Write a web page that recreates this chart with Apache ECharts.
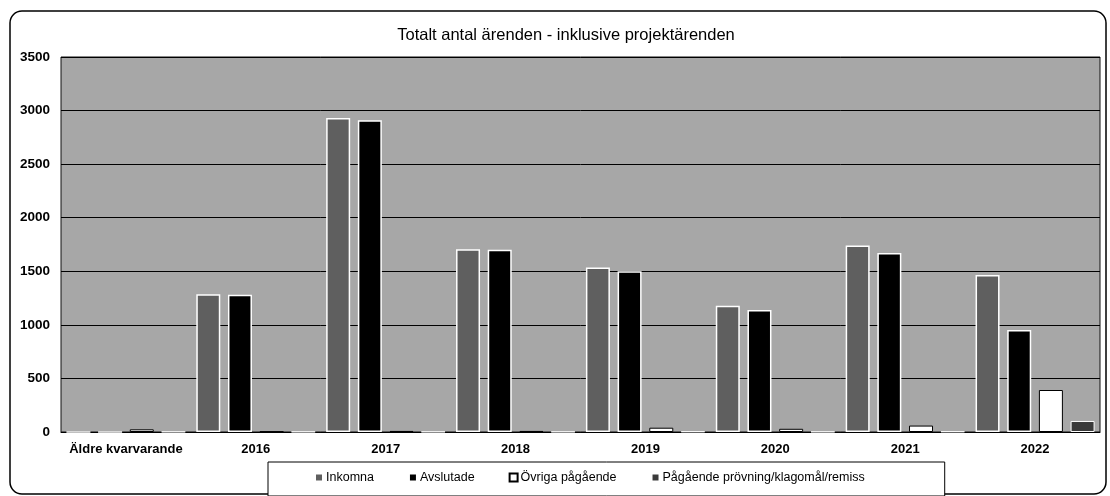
<!DOCTYPE html>
<html>
<head>
<meta charset="utf-8">
<script src="https://cdn.jsdelivr.net/npm/echarts@6/dist/echarts.min.js"></script>
<style>
  html, body { margin: 0; padding: 0; background: #fff; }
  #chart { width: 1110px; height: 496px; }
</style>
</head>
<body>
<div id="chart"></div>
<script>
// categories and values
const categories = ["Äldre kvarvarande", "2016", "2017", "2018", "2019", "2020", "2021", "2022"];
const inkomna = [0, 1285, 2930, 1705, 1535, 1178, 1740, 1465];
const avslutade = [0, 1280, 2910, 1700, 1500, 1138, 1670, 952];
const ovrigaPagaende = [25, 5, 10, 10, 40, 30, 60, 392];
const pagandeProvning = [3, 3, 3, 3, 5, 3, 5, 103];
const yTicks = { min: 0, max: 3500, step: 500 };

const font = "Liberation Sans, Arial, sans-serif";

var myChart = echarts.init(document.getElementById("chart"));

function barSeries(name, data, fill, border, bw) {
  return {
    name: name,
    type: "bar",
    data: data,
    barWidth: 24,
    barGap: "32%",
    itemStyle: { color: fill, borderColor: border, borderWidth: bw },
  };
}

var option = {
  backgroundColor: "#fff",
  animation: false,
  title: {
    text: "Totalt antal ärenden - inklusive projektärenden",
    left: 561,
    top: 22,
    textAlign: "center",
    textStyle: { fontFamily: font, fontSize: 16.5, fontWeight: "normal", color: "#000" },
  },
  graphic: [
    {
      type: "rect",
      shape: { x: 10, y: 11, width: 1096, height: 483, r: 12 },
      style: { fill: null, stroke: "#000", lineWidth: 1.5 },
      z: -1,
    },
  ],
  grid: {
    left: 61,
    right: 10,
    top: 57,
    bottom: 64,
    show: true,
    backgroundColor: "#a7a7a7",
    borderColor: "#111",
    borderWidth: 1,
  },
  legend: {
    left: 268,
    top: 462,
    itemWidth: 8,
    itemHeight: 8,
    itemGap: 34,
    padding: [9, 80, 12, 46],
    borderColor: "#000",
    borderWidth: 1,
    backgroundColor: "#fff",
    textStyle: { fontFamily: font, fontSize: 12.5, color: "#000", padding: [0, 0, 0, -2] },
    data: [
      { name: "Inkomna", icon: "rect" },
      { name: "Avslutade", icon: "rect" },
      { name: "Övriga pågående", icon: "rect" },
      { name: "Pågående prövning/klagomål/remiss", icon: "rect" },
    ],
  },
  xAxis: {
    type: "category",
    data: categories,
    axisLine: { lineStyle: { color: "#000", width: 1 } },
    axisTick: { show: false },
    axisLabel: { interval: 0, fontFamily: font, fontSize: 13, fontWeight: "bold", color: "#000", margin: 11 },
  },
  yAxis: {
    type: "value",
    min: yTicks.min,
    max: yTicks.max,
    interval: yTicks.step,
    axisLine: { show: false },
    axisTick: { show: false },
    splitLine: { lineStyle: { color: "#000", width: 1 } },
    axisLabel: {
      fontFamily: font, fontSize: 13.5, fontWeight: "bold", color: "#000", margin: 11,
      formatter: function (v) { return String(v); },
    },
  },
  series: [
    barSeries("Inkomna", inkomna, "#5f5f5f", "#fff", 1.5),
    barSeries("Avslutade", avslutade, "#000", "#fff", 1.5),
    barSeries("Övriga pågående", ovrigaPagaende, "#fff", "#000", 1),
    barSeries("Pågående prövning/klagomål/remiss", pagandeProvning, "#3a3a3a", "#fff", 1),
  ],
};

option && myChart.setOption(option);
</script>
</body>
</html>
